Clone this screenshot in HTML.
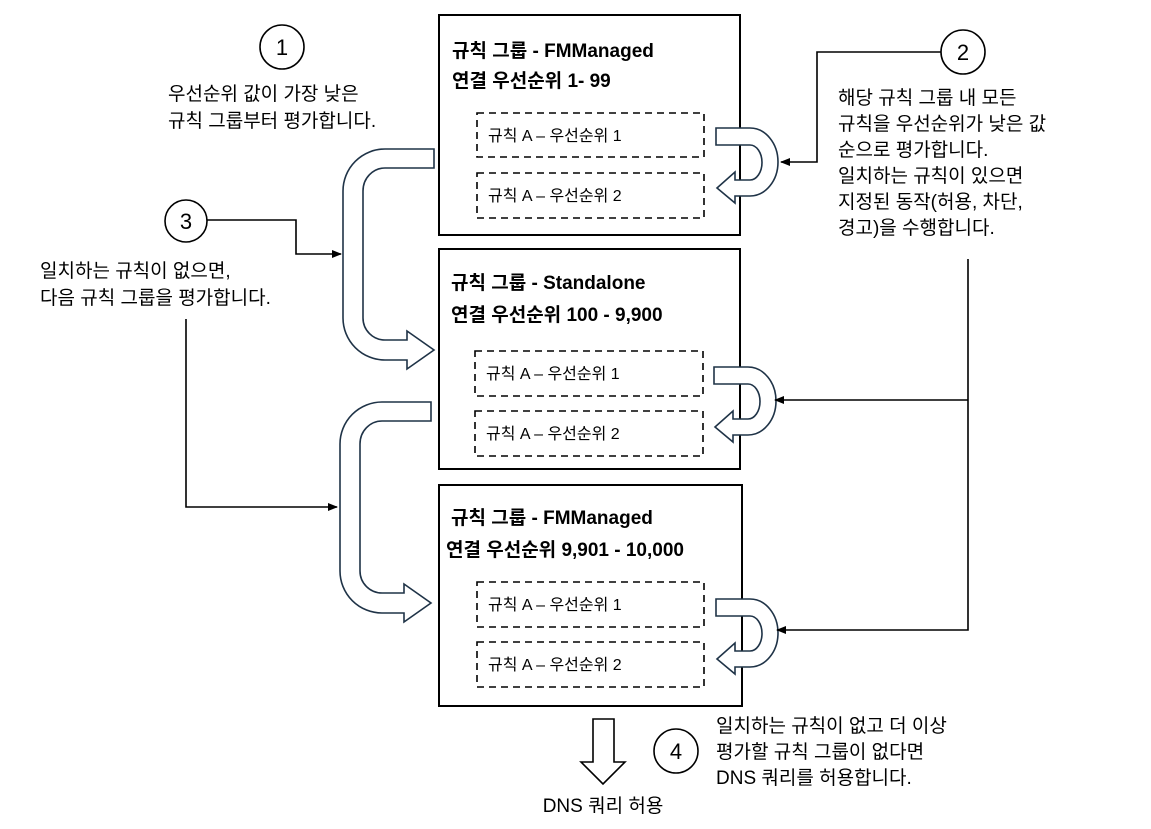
<!DOCTYPE html>
<html><head><meta charset="utf-8"><style>
html,body{margin:0;padding:0;background:#fff;}
svg{display:block;}
text{font-family:"Liberation Sans","Noto Sans CJK KR",sans-serif;fill:#000;}
.t{font-size:19px;}
.b{font-size:19px;font-weight:bold;}
.r{font-size:16px;}
.n{font-size:22px;}
</style></head><body>
<svg width="1151" height="829" viewBox="0 0 1151 829" xmlns="http://www.w3.org/2000/svg">
<defs>
<marker id="ah" markerWidth="10" markerHeight="8" refX="9" refY="4" orient="auto" markerUnits="userSpaceOnUse">
<path d="M0,0 L10,4 L0,8 Z" fill="#000"/></marker>
<path id="u" d="M716,128 H750 A28,34 0 0 1 750,196 H735 V203 L717,188 L735,172 V180 H750 A12,17.5 0 0 0 750,145 H716 Z" fill="#fff" stroke="#1f3347" stroke-width="1.6"/>
<path id="big" d="M434,149 H385 A42,42 0 0 0 343,191 V318 A42,42 0 0 0 385,360 H407 V369 L434,350 L407,331 V340 H385 A22,22 0 0 1 363,318 V191 A22,23 0 0 1 385,168 H434 Z" fill="#fff" stroke="#1f3347" stroke-width="1.6"/>
</defs>

<!-- boxes -->
<rect x="439" y="15" width="301" height="220" fill="#fff" stroke="#000" stroke-width="2"/>
<rect x="439" y="249" width="301" height="220" fill="#fff" stroke="#000" stroke-width="2"/>
<rect x="439" y="485" width="303" height="221" fill="#fff" stroke="#000" stroke-width="2"/>

<g fill="none" stroke="#000" stroke-width="1.6" stroke-dasharray="7,5">
<rect x="477" y="113" width="227" height="44"/>
<rect x="477" y="173" width="227" height="45"/>
<rect x="475" y="351" width="228" height="45"/>
<rect x="475" y="411" width="228" height="45"/>
<rect x="477" y="582" width="227" height="45"/>
<rect x="477" y="642" width="227" height="45"/>
</g>

<text class="b" x="452" y="57">규칙 그룹 - FMManaged</text>
<text class="b" x="452" y="87">연결 우선순위 1- 99</text>
<text class="b" x="451" y="289">규칙 그룹 - Standalone</text>
<text class="b" x="451" y="321">연결 우선순위 100 - 9,900</text>
<text class="b" x="451" y="524">규칙 그룹 - FMManaged</text>
<text class="b" x="446" y="556">연결 우선순위 9,901 - 10,000</text>

<text class="r" x="488" y="141">규칙 A – 우선순위 1</text>
<text class="r" x="488" y="201">규칙 A – 우선순위 2</text>
<text class="r" x="486" y="379">규칙 A – 우선순위 1</text>
<text class="r" x="486" y="439">규칙 A – 우선순위 2</text>
<text class="r" x="488" y="610">규칙 A – 우선순위 1</text>
<text class="r" x="488" y="670">규칙 A – 우선순위 2</text>

<!-- U arrows -->
<use href="#u"/>
<use href="#u" transform="translate(-2,239)"/>
<use href="#u" transform="translate(0,471)"/>

<!-- big arrows -->
<use href="#big"/>
<use href="#big" transform="translate(-3,253)"/>

<!-- connectors -->
<g fill="none" stroke="#000" stroke-width="1.6">
<polyline points="207,220 296,220 296,254 341,254" marker-end="url(#ah)"/>
<polyline points="186,319 186,507 337,507" marker-end="url(#ah)"/>
<polyline points="941,52 817,52 817,162 781,162" marker-end="url(#ah)"/>
<polyline points="968,259 968,630 777,630" marker-end="url(#ah)"/>
<polyline points="968,400 775,400" marker-end="url(#ah)"/>
</g>

<!-- circles -->
<g fill="#fff" stroke="#000" stroke-width="1.6">
<circle cx="282" cy="47" r="22"/>
<circle cx="963" cy="52" r="22"/>
<circle cx="186" cy="221" r="21"/>
<circle cx="676" cy="751" r="22"/>
</g>
<text class="n" x="282" y="55" text-anchor="middle">1</text>
<text class="n" x="963" y="60" text-anchor="middle">2</text>
<text class="n" x="186" y="229" text-anchor="middle">3</text>
<text class="n" x="676" y="759" text-anchor="middle">4</text>

<text class="t" x="168" y="100">우선순위 값이 가장 낮은</text>
<text class="t" x="168" y="127">규칙 그룹부터 평가합니다.</text>
<text class="t" x="40" y="277">일치하는 규칙이 없으면,</text>
<text class="t" x="40" y="304">다음 규칙 그룹을 평가합니다.</text>

<g class="t">
<text class="t" x="838" y="104">해당 규칙 그룹 내 모든</text>
<text class="t" x="838" y="130">규칙을 우선순위가 낮은 값</text>
<text class="t" x="838" y="156">순으로 평가합니다.</text>
<text class="t" x="838" y="182">일치하는 규칙이 있으면</text>
<text class="t" x="838" y="208">지정된 동작(허용, 차단,</text>
<text class="t" x="838" y="234">경고)을 수행합니다.</text>
</g>

<text class="t" x="716" y="732">일치하는 규칙이 없고 더 이상</text>
<text class="t" x="716" y="758">평가할 규칙 그룹이 없다면</text>
<text class="t" x="716" y="784">DNS 쿼리를 허용합니다.</text>

<!-- DNS arrow -->
<path d="M593,719 H614 V762 H625 L603,784 L581,762 H593 Z" fill="#fff" stroke="#000" stroke-width="1.6"/>
<text class="t" x="603" y="812" text-anchor="middle">DNS 쿼리 허용</text>
</svg>
</body></html>
